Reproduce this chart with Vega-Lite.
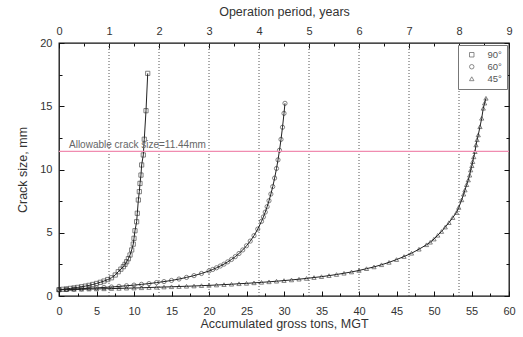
{
"$schema": "https://vega.github.io/schema/vega-lite/v6.json",
"width": 450,
"height": 253,
"autosize": {"type": "none"},
"padding": {"left": 59, "top": 43, "right": 14, "bottom": 41},
"background": "white",
"config": {
  "view": {"stroke": "#111", "strokeWidth": 1.3},
  "font": "Liberation Sans",
  "axis": {"grid": false, "domain": false, "tickColor": "#111", "tickWidth": 1, "labelColor": "#333", "titleColor": "#333", "labelFont": "Liberation Sans", "titleFont": "Liberation Sans", "titleFontWeight": "normal", "labelFontSize": 11, "titleFontSize": 12.5}
},
"datasets": {
  "curves": [
    {"s":"90°","x":0,"y":0.5},{"s":"90°","x":0.5,"y":0.53},{"s":"90°","x":1,"y":0.56},{"s":"90°","x":1.5,"y":0.6},{"s":"90°","x":2,"y":0.64},{"s":"90°","x":2.5,"y":0.68},{"s":"90°","x":3,"y":0.73},{"s":"90°","x":3.5,"y":0.78},{"s":"90°","x":4,"y":0.84},{"s":"90°","x":4.5,"y":0.91},{"s":"90°","x":5,"y":0.99},{"s":"90°","x":5.5,"y":1.08},{"s":"90°","x":6,"y":1.18},{"s":"90°","x":6.5,"y":1.3},{"s":"90°","x":7,"y":1.44},{"s":"90°","x":7.5,"y":1.66},{"s":"90°","x":7.9,"y":1.92},{"s":"90°","x":8.25,"y":2.12},{"s":"90°","x":8.58,"y":2.32},{"s":"90°","x":8.8,"y":2.5},{"s":"90°","x":9.02,"y":2.71},{"s":"90°","x":9.25,"y":2.95},{"s":"90°","x":9.47,"y":3.24},{"s":"90°","x":9.69,"y":3.64},{"s":"90°","x":9.9,"y":4.1},{"s":"90°","x":10.0,"y":4.56},{"s":"90°","x":10.13,"y":5.16},{"s":"90°","x":10.35,"y":5.87},{"s":"90°","x":10.44,"y":6.54},{"s":"90°","x":10.58,"y":7.59},{"s":"90°","x":10.71,"y":8.25},{"s":"90°","x":10.8,"y":8.9},{"s":"90°","x":10.93,"y":9.56},{"s":"90°","x":11.02,"y":10.36},{"s":"90°","x":11.24,"y":11.15},{"s":"90°","x":11.37,"y":12.39},{"s":"90°","x":11.6,"y":14.65},{"s":"90°","x":11.83,"y":17.6},
    {"s":"60°","x":0,"y":0.5},{"s":"60°","x":1,"y":0.52},{"s":"60°","x":2,"y":0.55},{"s":"60°","x":3,"y":0.58},{"s":"60°","x":4,"y":0.61},{"s":"60°","x":5,"y":0.64},{"s":"60°","x":6,"y":0.68},{"s":"60°","x":7,"y":0.71},{"s":"60°","x":8,"y":0.76},{"s":"60°","x":9,"y":0.81},{"s":"60°","x":10,"y":0.86},{"s":"60°","x":11,"y":0.92},{"s":"60°","x":12,"y":0.98},{"s":"60°","x":13,"y":1.06},{"s":"60°","x":14,"y":1.14},{"s":"60°","x":15,"y":1.23},{"s":"60°","x":16,"y":1.34},{"s":"60°","x":17,"y":1.47},{"s":"60°","x":18,"y":1.61},{"s":"60°","x":19,"y":1.78},{"s":"60°","x":20,"y":1.98},{"s":"60°","x":20.5,"y":2.1},{"s":"60°","x":21,"y":2.23},{"s":"60°","x":21.5,"y":2.37},{"s":"60°","x":22,"y":2.52},{"s":"60°","x":22.5,"y":2.7},{"s":"60°","x":23,"y":2.89},{"s":"60°","x":23.5,"y":3.11},{"s":"60°","x":24,"y":3.36},{"s":"60°","x":24.5,"y":3.64},{"s":"60°","x":25,"y":3.97},{"s":"60°","x":25.5,"y":4.34},{"s":"60°","x":26,"y":4.77},{"s":"60°","x":26.5,"y":5.29},{"s":"60°","x":27,"y":5.9},{"s":"60°","x":27.25,"y":6.25},{"s":"60°","x":27.5,"y":6.63},{"s":"60°","x":27.75,"y":7.06},{"s":"60°","x":28,"y":7.53},{"s":"60°","x":28.25,"y":8.06},{"s":"60°","x":28.5,"y":8.65},{"s":"60°","x":28.75,"y":9.32},{"s":"60°","x":29,"y":10.08},{"s":"60°","x":29.2,"y":10.76},{"s":"60°","x":29.4,"y":11.52},{"s":"60°","x":29.6,"y":12.38},{"s":"60°","x":29.8,"y":13.34},{"s":"60°","x":30,"y":14.44},{"s":"60°","x":30.13,"y":15.23},
    {"s":"45°","x":0,"y":0.5},{"s":"45°","x":1,"y":0.51},{"s":"45°","x":2,"y":0.52},{"s":"45°","x":3,"y":0.53},{"s":"45°","x":4,"y":0.55},{"s":"45°","x":5,"y":0.56},{"s":"45°","x":6,"y":0.57},{"s":"45°","x":7,"y":0.59},{"s":"45°","x":8,"y":0.6},{"s":"45°","x":9,"y":0.62},{"s":"45°","x":10,"y":0.63},{"s":"45°","x":11,"y":0.65},{"s":"45°","x":12,"y":0.67},{"s":"45°","x":13,"y":0.69},{"s":"45°","x":14,"y":0.71},{"s":"45°","x":15,"y":0.73},{"s":"45°","x":16,"y":0.75},{"s":"45°","x":17,"y":0.77},{"s":"45°","x":18,"y":0.79},{"s":"45°","x":19,"y":0.82},{"s":"45°","x":20,"y":0.84},{"s":"45°","x":21,"y":0.87},{"s":"45°","x":22,"y":0.9},{"s":"45°","x":23,"y":0.93},{"s":"45°","x":24,"y":0.97},{"s":"45°","x":25,"y":1.0},{"s":"45°","x":26,"y":1.04},{"s":"45°","x":27,"y":1.08},{"s":"45°","x":28,"y":1.12},{"s":"45°","x":29,"y":1.17},{"s":"45°","x":30,"y":1.22},{"s":"45°","x":31,"y":1.27},{"s":"45°","x":32,"y":1.33},{"s":"45°","x":33,"y":1.39},{"s":"45°","x":34,"y":1.46},{"s":"45°","x":35,"y":1.53},{"s":"45°","x":36,"y":1.61},{"s":"45°","x":37,"y":1.7},{"s":"45°","x":38,"y":1.8},{"s":"45°","x":39,"y":1.9},{"s":"45°","x":40,"y":2.02},{"s":"45°","x":41,"y":2.16},{"s":"45°","x":42,"y":2.3},{"s":"45°","x":43,"y":2.47},{"s":"45°","x":44,"y":2.66},{"s":"45°","x":45,"y":2.88},{"s":"45°","x":46,"y":3.12},{"s":"45°","x":47,"y":3.38},{"s":"45°","x":48,"y":3.7},{"s":"45°","x":49,"y":4.05},{"s":"45°","x":49.5,"y":4.25},{"s":"45°","x":50,"y":4.5},{"s":"45°","x":50.5,"y":4.8},{"s":"45°","x":51,"y":5.1},{"s":"45°","x":51.5,"y":5.45},{"s":"45°","x":52,"y":5.8},{"s":"45°","x":52.5,"y":6.2},{"s":"45°","x":53,"y":6.6},{"s":"45°","x":53.3,"y":7.0},{"s":"45°","x":53.69,"y":7.6},{"s":"45°","x":53.95,"y":8.05},{"s":"45°","x":54.13,"y":8.38},{"s":"45°","x":54.35,"y":8.8},{"s":"45°","x":54.57,"y":9.17},{"s":"45°","x":54.75,"y":9.55},{"s":"45°","x":54.89,"y":9.96},{"s":"45°","x":55.05,"y":10.3},{"s":"45°","x":55.16,"y":10.62},{"s":"45°","x":55.3,"y":11.0},{"s":"45°","x":55.47,"y":11.41},{"s":"45°","x":55.6,"y":11.94},{"s":"45°","x":55.75,"y":12.35},{"s":"45°","x":55.9,"y":12.73},{"s":"45°","x":56.13,"y":13.38},{"s":"45°","x":56.36,"y":14.05},{"s":"45°","x":56.57,"y":14.84},{"s":"45°","x":56.75,"y":15.25},{"s":"45°","x":56.93,"y":15.63}
  ],
  "years": [{"year":1},{"year":2},{"year":3},{"year":4},{"year":5},{"year":6},{"year":7},{"year":8}],
  "limit": [{"crack": 11.44, "label": "Allowable crack size=11.44mm", "yr": 0.2}]
},
"layer": [
  {
    "data": {"name": "years"},
    "mark": {"type": "rule", "color": "#555", "strokeDash": [1, 2], "strokeWidth": 1},
    "encoding": {
      "x": {"field": "year", "type": "quantitative", "scale": {"domain": [0, 9], "nice": false},
        "axis": {"orient": "top", "values": [0,1,2,3,4,5,6,7,8,9], "tickSize": -5, "labelPadding": 12, "title": "Operation period, years", "titlePadding": 7, "labelFlush": false}}
    }
  },
  {
    "data": {"name": "curves"},
    "mark": {"type": "line", "color": "#222", "strokeWidth": 1},
    "encoding": {
      "x": {"field": "x", "type": "quantitative", "scale": {"domain": [0, 60], "nice": false},
        "axis": {"orient": "bottom", "values": [0,5,10,15,20,25,30,35,40,45,50,55,60], "tickSize": -5, "labelPadding": 14, "title": "Accumulated gross tons, MGT", "titlePadding": 1, "labelFlush": false}},
      "y": {"field": "y", "type": "quantitative", "scale": {"domain": [0, 20], "nice": false},
        "axis": {"orient": "left", "values": [0,5,10,15,20], "tickSize": -5, "labelPadding": 12, "title": "Crack size, mm", "titlePadding": 10}},
      "detail": {"field": "s"}
    }
  },
  {
    "data": {"name": "curves"},
    "mark": {"type": "point", "filled": false, "strokeWidth": 0.8, "size": 18},
    "encoding": {
      "x": {"field": "x", "type": "quantitative", "scale": {"domain": [0, 60], "nice": false},
        "axis": {"orient": "bottom", "values": [2.5,7.5,12.5,17.5,22.5,27.5,32.5,37.5,42.5,47.5,52.5,57.5], "tickSize": -3, "labels": false, "title": null}},
      "y": {"field": "y", "type": "quantitative",
        "axis": {"orient": "left", "values": [2.5,7.5,12.5,17.5], "tickSize": -3, "labels": false, "title": null}},
      "color": {"value": "#222"},
      "shape": {"field": "s", "type": "nominal",
        "scale": {"domain": ["90°","60°","45°"], "range": ["square","circle","triangle-up"]},
        "legend": {"title": null, "orient": "top-right", "offset": 2, "strokeColor": "#777", "fillColor": "white", "padding": 5, "labelFontSize": 9.5, "labelColor": "#555", "symbolSize": 20, "symbolStrokeColor": "#333", "symbolStrokeWidth": 0.8, "symbolOffset": 4, "rowPadding": 1, "labelOffset": 11}}
    }
  },
  {
    "data": {"name": "limit"},
    "mark": {"type": "rule", "color": "#f08cb0", "strokeWidth": 1.2},
    "encoding": {
      "y": {"field": "crack", "type": "quantitative",
        "axis": {"orient": "right", "values": [0,5,10,15,20], "tickSize": -5, "labels": false, "title": null}}
    }
  },
  {
    "data": {"name": "limit"},
    "mark": {"type": "text", "align": "left", "baseline": "bottom", "dy": -1, "fontSize": 10, "color": "#666"},
    "encoding": {
      "text": {"field": "label"},
      "x": {"field": "yr", "type": "quantitative", "scale": {"domain": [0, 9], "nice": false},
        "axis": {"orient": "top", "values": [0.5,1.5,2.5,3.5,4.5,5.5,6.5,7.5,8.5], "tickSize": -3, "labels": false, "title": null}},
      "y": {"field": "crack", "type": "quantitative",
        "axis": {"orient": "right", "values": [2.5,7.5,12.5,17.5], "tickSize": -3, "labels": false, "title": null}}
    }
  }
],
"resolve": {"scale": {"x": "independent"}, "axis": {"x": "independent", "y": "independent"}}
}
